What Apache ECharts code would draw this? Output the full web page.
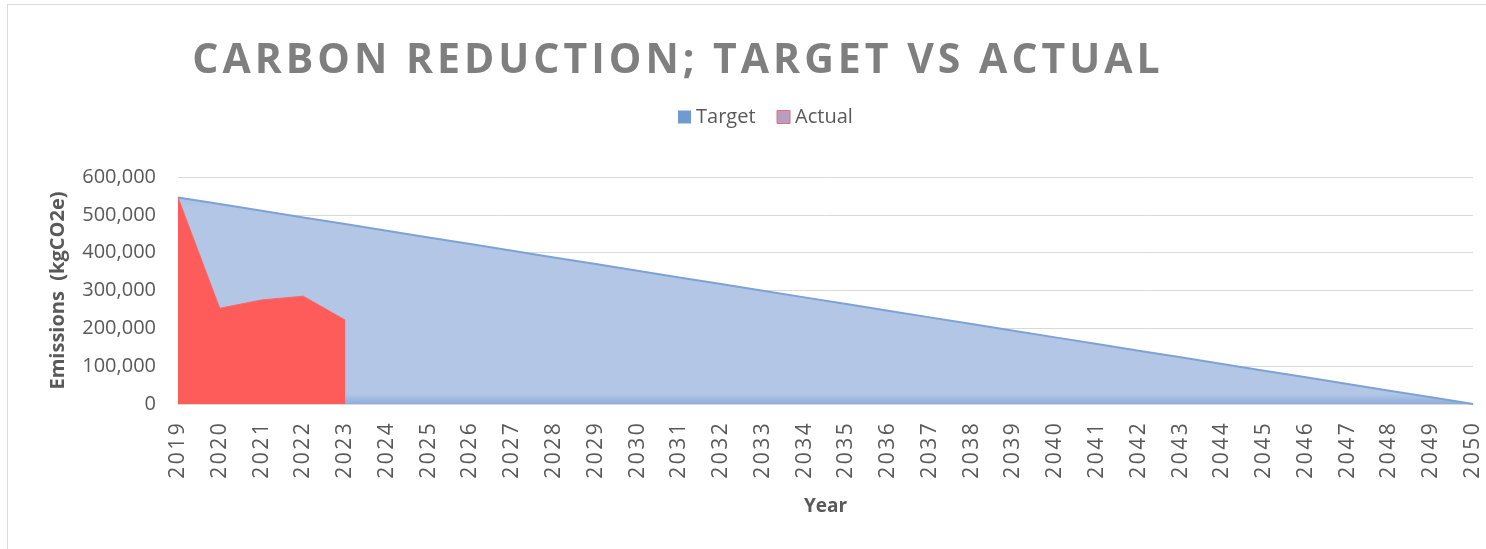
<!DOCTYPE html>
<html>
<head>
<meta charset="utf-8">
<script src="https://cdn.jsdelivr.net/npm/echarts@6/dist/echarts.min.js"></script>
<style>
  html, body { margin: 0; padding: 0; background: #fff; }
  #wrap { position: relative; width: 1486px; height: 549px; overflow: hidden; }
  #frame { position: absolute; left: 7px; top: 4px; width: 1500px; height: 600px; border: 1px solid #d9d9d9; box-sizing: border-box; }
  #chart { position: absolute; left: 0; top: 0; width: 1486px; height: 549px; }
</style>
</head>
<body>
<div id="wrap">
  <div id="frame"></div>
  <div id="chart"></div>
</div>
<script>
const years = ['2019','2020','2021','2022','2023','2024','2025','2026','2027','2028','2029','2030','2031','2032','2033','2034','2035','2036','2037','2038','2039','2040','2041','2042','2043','2044','2045','2046','2047','2048','2049','2050'];
const targetValues = [546000, 528387, 510774, 493161, 475548, 457935, 440323, 422710, 405097, 387484, 369871, 352258, 334645, 317032, 299419, 281806, 264194, 246581, 228968, 211355, 193742, 176129, 158516, 140903, 123290, 105677, 88065, 70452, 52839, 35226, 17613, 0];
const actualValues = [546000, 253000, 275000, 285000, 222000];
const yTicks = { min: 0, max: 600000, interval: 100000 };
const titleText = 'CARBON REDUCTION; TARGET VS ACTUAL';

// spaced lettering (the original uses letter-spacing)
function spaced(str) {
  return str.split('').map(ch => '{c|' + ch + '}').join('');
}

const chart = echarts.init(document.getElementById('chart'));
const font = 'Open Sans';
chart.setOption({
  animation: false,
  backgroundColor: 'transparent',
  title: {
    text: spaced(titleText),
    left: 671, top: 36, textAlign: 'center',
    textStyle: {
      fontFamily: font, fontWeight: 'bold', fontSize: 41, color: '#7f7f7f',
      rich: { c: { fontFamily: font, fontWeight: 'bold', fontSize: 41, color: '#7f7f7f', padding: [0, 2, 0, 2] } }
    }
  },
  legend: {
    data: [
      { name: 'Target', itemStyle: { color: '#6f9bd0' } },
      { name: 'Actual', itemStyle: { color: '#b99dc0', borderColor: '#e0707a', borderWidth: 1 } }
    ],
    left: 673, top: 102,
    icon: 'rect', itemWidth: 13, itemHeight: 13, itemGap: 21,
    textStyle: { fontFamily: font, fontSize: 20, color: '#595959' }
  },
  grid: { left: 178, right: 13, top: 177, bottom: 145, containLabel: false },
  xAxis: {
    type: 'category',
    data: years,
    boundaryGap: false,
    name: 'Year',
    nameLocation: 'middle',
    nameGap: 93,
    nameTextStyle: { fontFamily: font, fontWeight: 'bold', fontSize: 19, color: '#595959' },
    axisLine: { show: true, lineStyle: { color: '#d9d9d9' } },
    axisTick: { show: false },
    axisLabel: {
      rotate: 90, margin: 18, fontFamily: font, fontSize: 21, color: '#595959', interval: 0,
      formatter: v => spaced(v),
      rich: { c: { fontFamily: font, fontSize: 21, color: '#595959', width: 14.5, align: 'center' } }
    }
  },
  yAxis: {
    type: 'value',
    min: yTicks.min, max: yTicks.max, interval: yTicks.interval,
    name: 'Emissions  (kgCO2e)',
    nameLocation: 'middle',
    nameGap: 110,
    nameRotate: 90,
    nameTextStyle: { fontFamily: font, fontWeight: 'bold', fontSize: 20, color: '#595959' },
    axisLine: { show: false },
    axisTick: { show: false },
    splitLine: { lineStyle: { color: '#d9d9d9', width: 1 } },
    axisLabel: {
      margin: 22, fontFamily: font, fontSize: 20, color: '#595959',
      formatter: v => v.toLocaleString('en-US')
    }
  },
  series: [
    {
      name: 'Target', type: 'line', data: targetValues,
      symbol: 'none',
      lineStyle: { color: '#7da2d3', width: 2 },
      itemStyle: { color: '#6f9bd0' },
      areaStyle: {
        color: {
          type: 'linear', x: 0, y: 0, x2: 0, y2: 1,
          colorStops: [
            { offset: 0, color: '#a9c0e4' },
            { offset: 0.05, color: '#b3c6e6' },
            { offset: 0.95, color: '#b3c6e6' },
            { offset: 1, color: '#8eaedb' }
          ]
        },
        opacity: 1
      },
      z: 2
    },
    {
      name: 'Actual', type: 'line', data: actualValues,
      symbol: 'none',
      lineStyle: { color: '#f46a6e', width: 1 },
      itemStyle: { color: '#b99dc0' },
      areaStyle: { color: '#fe5b5b', opacity: 1 },
      z: 3
    }
  ]
});
</script>
</body>
</html>
